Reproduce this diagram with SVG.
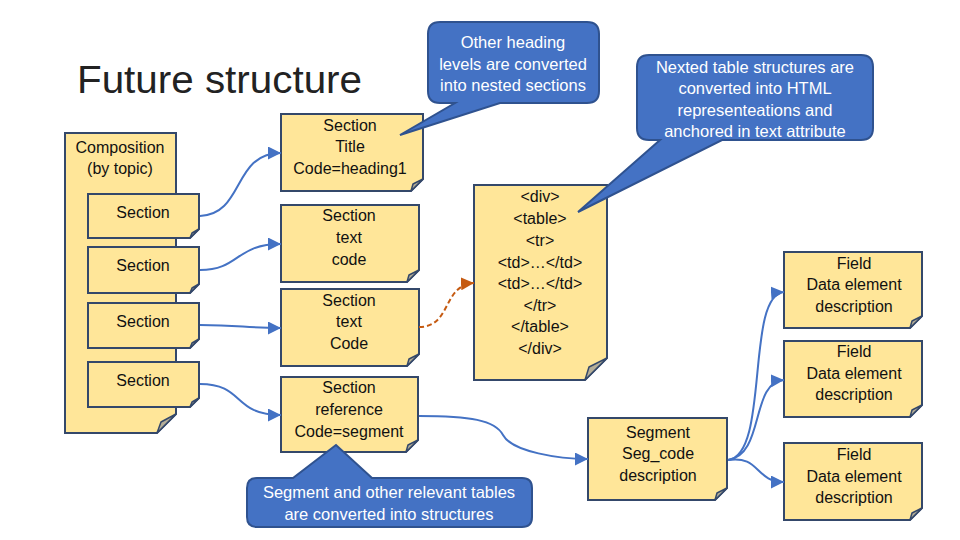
<svg xmlns="http://www.w3.org/2000/svg" width="960" height="540" viewBox="0 0 960 540">
<defs>
<style>
.box{fill:#FFE699;stroke:#34486A;stroke-width:2;stroke-linejoin:miter}
.fold{fill:#B5AE98;stroke:#34486A;stroke-width:1.5;stroke-linejoin:round}
.t{font-family:"Liberation Sans",Arial,sans-serif;font-size:16px;fill:#111;text-anchor:middle}
.co{fill:#4472C4;stroke:#2F528F;stroke-width:2}
.ct{font-family:"Liberation Sans",Arial,sans-serif;font-size:16.5px;fill:#fff;text-anchor:middle}
.conn{fill:none;stroke:#4472C4;stroke-width:2;marker-end:url(#arr)}
.dash{fill:none;stroke:#C55A11;stroke-width:2;stroke-dasharray:5,3;marker-end:url(#arrO)}
</style>
<marker id="arr" markerUnits="userSpaceOnUse" markerWidth="13" markerHeight="13" refX="10" refY="5" orient="auto" viewBox="0 0 10 10"><path d="M0,0 L10,5 L0,10 z" fill="#4472C4"/></marker>
<marker id="arrO" markerUnits="userSpaceOnUse" markerWidth="13" markerHeight="13" refX="10" refY="5" orient="auto" viewBox="0 0 10 10"><path d="M0,0 L10,5 L0,10 z" fill="#C55A11"/></marker>
</defs>
<rect width="960" height="540" fill="#fff"/>
<text x="77" y="93" font-family="'Liberation Sans',Arial,sans-serif" font-size="38" fill="#222" textLength="285" lengthAdjust="spacingAndGlyphs">Future structure</text>

<g id="composition">
<path class="box" d="M65,133 H176 V414 L157,433 H65 Z"/>
<path class="fold" d="M157,433 L176,414 L161,422 Z"/>
<text class="t" x="120" y="153">Composition</text>
<text class="t" x="120" y="174">(by topic)</text>
</g>
<g id="section1">
<path class="box" d="M88,194 H199 V229 L190,238 H88 Z"/>
<path class="fold" d="M190,238 L199,229 L192,233 Z"/>
<text class="t" x="143" y="218">Section</text>
</g>
<g id="section2">
<path class="box" d="M88,247 H199 V284 L190,293 H88 Z"/>
<path class="fold" d="M190,293 L199,284 L192,288 Z"/>
<text class="t" x="143" y="271">Section</text>
</g>
<g id="section3">
<path class="box" d="M88,303 H199 V339 L190,348 H88 Z"/>
<path class="fold" d="M190,348 L199,339 L192,343 Z"/>
<text class="t" x="143" y="327">Section</text>
</g>
<g id="section4">
<path class="box" d="M88,362 H199 V398 L190,407 H88 Z"/>
<path class="fold" d="M190,407 L199,398 L192,402 Z"/>
<text class="t" x="143" y="386">Section</text>
</g>

<g id="section-title">
<path class="box" d="M281,114 H423 V179 L411,191 H281 Z"/>
<path class="fold" d="M411,191 L423,179 L413,184 Z"/>
<text class="t" x="350" y="131">Section</text>
<text class="t" x="350" y="152">Title</text>
<text class="t" x="350" y="174">Code=heading1</text>
</g>
<g id="section-text-code">
<path class="box" d="M281,205 H419 V270 L407,282 H281 Z"/>
<path class="fold" d="M407,282 L419,270 L409,275 Z"/>
<text class="t" x="349" y="221">Section</text>
<text class="t" x="349" y="243">text</text>
<text class="t" x="349" y="265">code</text>
</g>
<g id="section-text-Code">
<path class="box" d="M281,289 H419 V354 L407,366 H281 Z"/>
<path class="fold" d="M407,366 L419,354 L409,359 Z"/>
<text class="t" x="349" y="306">Section</text>
<text class="t" x="349" y="327">text</text>
<text class="t" x="349" y="349">Code</text>
</g>
<g id="section-reference">
<path class="box" d="M281,377 H418 V440 L406,452 H281 Z"/>
<path class="fold" d="M406,452 L418,440 L408,445 Z"/>
<text class="t" x="349" y="393">Section</text>
<text class="t" x="349" y="415">reference</text>
<text class="t" x="349" y="437">Code=segment</text>
</g>

<g id="html-table">
<path class="box" d="M474,185 H607 V358 L585,380 H474 Z"/>
<path class="fold" d="M585,380 L607,358 L589,367 Z"/>
<text class="t" x="540" y="202">&lt;div&gt;</text>
<text class="t" x="540" y="224">&lt;table&gt;</text>
<text class="t" x="540" y="246">&lt;tr&gt;</text>
<text class="t" x="540" y="268">&lt;td&gt;…&lt;/td&gt;</text>
<text class="t" x="540" y="289">&lt;td&gt;…&lt;/td&gt;</text>
<text class="t" x="540" y="311">&lt;/tr&gt;</text>
<text class="t" x="540" y="332">&lt;/table&gt;</text>
<text class="t" x="540" y="354">&lt;/div&gt;</text>
</g>

<g id="segment">
<path class="box" d="M588,418 H727 V488 L715,500 H588 Z"/>
<path class="fold" d="M715,500 L727,488 L717,493 Z"/>
<text class="t" x="658" y="438">Segment</text>
<text class="t" x="658" y="459">Seg_code</text>
<text class="t" x="658" y="481">description</text>
</g>

<g id="field1">
<path class="box" d="M784,252 H922 V316 L910,328 H784 Z"/>
<path class="fold" d="M910,328 L922,316 L912,321 Z"/>
<text class="t" x="854" y="269">Field</text>
<text class="t" x="854" y="290">Data element</text>
<text class="t" x="854" y="312">description</text>
</g>
<g id="field2">
<path class="box" d="M784,341 H922 V405 L910,417 H784 Z"/>
<path class="fold" d="M910,417 L922,405 L912,410 Z"/>
<text class="t" x="854" y="357">Field</text>
<text class="t" x="854" y="379">Data element</text>
<text class="t" x="854" y="400">description</text>
</g>
<g id="field3">
<path class="box" d="M784,443 H922 V508 L910,520 H784 Z"/>
<path class="fold" d="M910,520 L922,508 L912,513 Z"/>
<text class="t" x="854" y="460">Field</text>
<text class="t" x="854" y="482">Data element</text>
<text class="t" x="854" y="503">description</text>
</g>

<g id="connectors">
<path class="conn" d="M200,216 C245,214 232,153 281,153"/>
<path class="conn" d="M200,270 C240,270 235,244 281,244"/>
<path class="conn" d="M200,325 C240,325 245,328 281,328"/>
<path class="conn" d="M200,384 C245,384 232,415 281,415"/>
<path class="conn" d="M419,416 C470,416 495,420 503,435 C512,452 560,459 588,459"/>
<path class="dash" d="M419,327 C452,327 442,285 474,283"/>
<path class="conn" d="M728,460 C770,455 745,295 784,292"/>
<path class="conn" d="M728,460 C765,455 750,382 784,380"/>
<path class="conn" d="M728,460 C760,455 755,482 784,482"/>
</g>

<g id="callout-headings">
<path class="co" d="M440,22 H587 Q599,22 599,34 V91 Q599,103 587,103 H500 L400,135 L455,103 H440 Q428,103 428,91 V34 Q428,22 440,22 Z"/>
<text class="ct" x="513" y="48">Other heading</text>
<text class="ct" x="513" y="70">levels are converted</text>
<text class="ct" x="513" y="91">into nested sections</text>
</g>
<g id="callout-tables">
<path class="co" d="M649,55 H861 Q873,55 873,67 V128 Q873,140 861,140 H722 L578,212 L660,140 H649 Q637,140 637,128 V67 Q637,55 649,55 Z"/>
<text class="ct" x="755" y="73">Nexted table structures are</text>
<text class="ct" x="755" y="94">converted into HTML</text>
<text class="ct" x="755" y="116">representeations and</text>
<text class="ct" x="755" y="137">anchored in text attribute</text>
</g>
<g id="callout-segment">
<path class="co" d="M257,478 H293 L336,445 L372,478 H522 Q532,478 532,488 V517 Q532,527 522,527 H257 Q247,527 247,517 V488 Q247,478 257,478 Z"/>
<text class="ct" x="389" y="498">Segment and other relevant tables</text>
<text class="ct" x="389" y="520">are converted into structures</text>
</g>
</svg>
